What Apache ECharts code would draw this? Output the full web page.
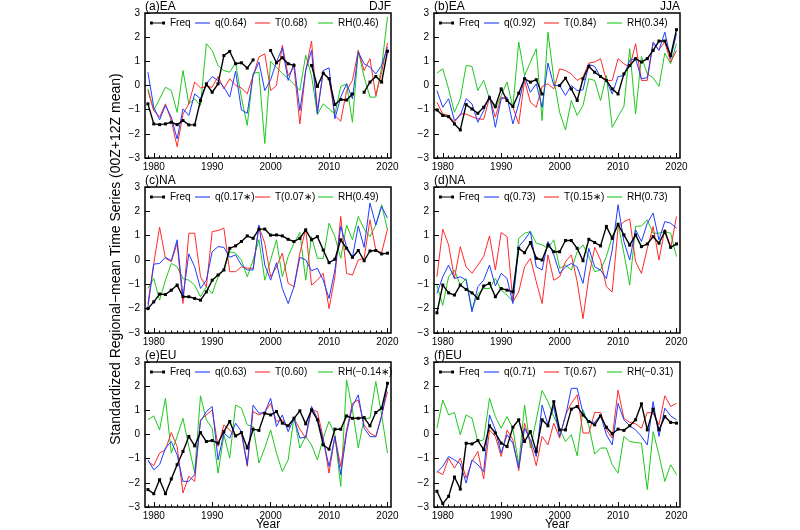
<!DOCTYPE html>
<html><head><meta charset="utf-8">
<script src="https://cdn.jsdelivr.net/npm/echarts@6/dist/echarts.min.js"></script>
<style>html,body{margin:0;padding:0;background:#fff}#c{width:800px;height:530px}</style>
</head><body><div id="c"></div><script>
// ---------------- data ----------------
const years = [1979,1980,1981,1982,1983,1984,1985,1986,1987,1988,1989,1990,1991,1992,1993,1994,1995,1996,1997,1998,1999,2000,2001,2002,2003,2004,2005,2006,2007,2008,2009,2010,2011,2012,2013,2014,2015,2016,2017,2018,2019,2020];
const yearTicks = [1980,1990,2000,2010,2020];

// (a) EA DJF
const legend_a = ['Freq','q(0.64)','T(0.68)','RH(0.46)'];
const freq_a = [-0.76,-1.59,-1.62,-1.59,-1.52,-1.62,-1.45,-1.63,-1.63,-0.62, 0.07,-0.28,0.07,1.24,1.41,0.9,0.94,0.72,1.06,null, null,1.45,0.94,1.15,0.9,0.83,null,null,0.83,-0.04, 0.51,0.28,-0.79,-0.58,-0.6,-0.35,null,-0.28,0.14,0.37, 0.14,1.42];
const q_a = [0.55,-0.9,-1.42,-0.83,-1.31,-2.21,-0.97,-1.24,-0.35,-0.55, 0.07,0.37,0.21,-0.07,-0.48,0.59,-1.01,-1.15,0.41,0.97, -0.21,0.24,0.97,1.56,0.21,0.93,-1.04,0.62,1.45,-1.18, 0.62,0.73,-1.38,-0.48,0.07,-0.55,1.38,0.9,0.76,0.48, 0.83,1.59];
const t_a = [-0.2,-1.04,-1.31,-0.76,-1.45,-2.53,-1.18,-0.76,0.14,-0.1, -0.04,-0.07,0.37,-0.14,0.28,0,-0.1,-0.35,0.41,1.18, 1.31,-0.21,0,1.66,0.41,0.76,-1.59,0.62,1.84,-1.04, 0.55,0.28,-1.24,-1.48,-0.21,0.21,1.45,0.62,1.11,-0.41, 0.55,1.76];
const rh_a = [-0.14,-1.04,-0.55,-0.07,-0.21,-1.11,0.62,-0.76,-0.55,-0.83, 1.73,1.45,0.83,0.62,0.55,0.95,-0.5,-1.65,0.5,0.55, -2.4,1.0,0.75,0.5,0.3,0.05,-0.2,1.25,0.4,-1.2, -0.76,-0.97,-1.18,-0.04,0.07,-1.52,1.45,0.35,-0.48,-0.48, 0.76,2.84];

// (b) EA JJA
const legend_b = ['Freq','q(0.92)','T(0.84)','RH(0.34)'];
const freq_b = [-1.01,-1.24,-1.29,-1.59,-1.84,-0.79,-0.97,-1.15,-0.9,-0.51, -0.87,-0.14,-0.62,-0.87,-0.32,0.28,0.14,0.24,-0.35,null, null,0,0.3,-0.14,-0.62,0.28,0.79,0.55,0.37,0.21, -0.14,-0.35,0.48,0.83,1.11,0.97,1.11,1.45,1.84,1.84, 1.24,2.31];
const q_b = [-0.21,-0.9,-0.55,-1.45,-1.24,-0.55,-0.76,-1.52,-1.04,-0.41, -1.73,-0.55,-0.48,-1.59,-0.76,0.37,-0.28,0.07,-0.9,0.93, 0,0,-0.41,0,-0.21,-0.18,0.87,0.79,0.35,0.21, -0.35,0.37,0.41,1.04,1.11,0.28,0.32,1.8,1.45,2.21, 1.11,2.14];
const t_b = [-0.69,-1.18,-1.24,-1.52,-1.18,-1.18,-1.29,-1.38,-1.4,-0.5, -1.31,-0.48,-0.59,-0.9,-1.59,0.21,-0.69,-0.9,-0.04,0.07, -0.14,0.69,0.62,0.48,0.21,0.35,0.93,0.97,1.11,0.21, 0.21,1.11,0.9,0.76,1.73,0.21,0.21,1.73,1.48,1.8, 0.97,1.45];
const rh_b = [0.51,0.69,-0.14,-1.11,-0.55,0.83,0.79,-0.21,0.21,-0.55, -0.97,-0.41,0.14,-0.9,1.8,0.41,0.97,1.52,-1.45,2.21, 0.28,-1.11,-1.84,-0.62,-1.24,-0.83,0.28,0.21,-0.62,0.41, -1.73,-1.29,-0.87,1.52,-1.18,1.2,0.48,0.32,-0.04,1.34, 0.9,1.73];

// (c) NA DJF
const legend_c = ['Freq','q(0.17\u2217)','T(0.07\u2217)','RH(0.49)'];
const freq_c = [-2.0,-1.72,-1.4,-1.42,-1.24,-1.03,-1.51,-1.51,-1.58,-1.65, -1.31,-0.83,-0.62,-0.41,0.48,0.58,0.76,0.99,0.89,1.27, 1.27,1.02,1.03,0.99,0.85,0.76,0.89,1.24,0.83,0.96, 0.41,-0.11,0.03,0.83,0.48,0.11,0.39,-0.03,0.37,0.39, 0.25,0.28];
const q_c = [-1.95,-0.17,-0.14,0.11,-0.03,0.83,-1.51,0.25,-0.28,-1.17, -0.83,0.34,0.55,0.52,0.11,0.21,-0.21,-0.41,-0.41,1.44, -0.21,-0.83,-0.11,-1.17,-1.79,-1.1,0.11,0,-0.44,-0.34, -0.83,-1.58,-0.41,1.38,0.55,0.11,1.4,0.52,2.34,1.44, 2.2,1.72];
const t_c = [-1.79,-0.14,1.35,0.07,-0.07,0.69,-1.79,1.1,1.1,-0.69, -1.1,1.17,1.21,1.31,-0.48,-0.48,-0.28,-0.34,-0.34,1.38, 0.69,-0.69,-0.28,0.28,-0.96,-1.1,0.28,1.27,-1.03,-0.83, -0.55,-2.0,-0.69,1.79,-0.55,-0.62,0,0.07,1.65,0.41, 0.3,1.27];
const rh_c = [-1.17,-0.76,-1.65,-0.83,-0.14,-0.28,-0.76,-0.83,-1.03,-1.51, -1.1,-1.38,-0.69,-0.41,0.34,0.28,0,-0.69,0,0.83, -0.83,0,0.83,-0.69,0.14,0.69,1.13,-0.83,0.96,0.07, 0.07,1.51,0.96,0.07,1.44,0.83,1.79,1.27,0.96,1.44, 2.27,1.24];

// (d) NA JJA
const legend_d = ['Freq','q(0.73)','T(0.15\u2217)','RH(0.73)'];
const freq_d = [-2.17,-1.03,-1.35,-1.44,-1.03,-1.21,-1.35,-1.58,-1.07,-0.96, -1.51,-1.17,-1.24,-1.31,0.48,0.3,0.72,0.07,0,0.62, 0.34,0.34,0.8,0.8,0.48,-0.03,0.85,0.72,0.58,1.38, 0.89,1.47,1.03,0.61,1.03,0.55,0.66,0.96,0.69,1.17, 0.52,0.66];
const q_d = [-1.38,-0.69,-0.21,-0.76,-0.69,-0.83,-2.13,-1.1,-0.83,-0.21, -1.07,-0.55,-0.76,-1.79,0.55,0.83,1.17,-0.28,-0.41,0.76, 0.21,-0.55,-0.28,-0.14,-0.28,-0.96,0.48,-0.28,-0.41,-0.76, 0.41,2.27,0.76,0,1.24,0.76,1.51,1.93,0.83,1.58, 1.51,1.31];
const t_d = [-0.69,1.27,0.62,-0.76,0.55,-0.28,-0.55,-0.21,0.14,0.99, -0.41,1.13,0.96,-1.72,-1.31,-0.28,0.07,-0.89,-1.79,0.21, -0.83,-0.69,-0.07,0.21,-0.89,-2.41,-0.69,0.52,0,-1.1, -1.31,1.31,1.58,1.68,-0.07,-0.55,0.48,1.38,0,1.27, 0.48,1.79];
const rh_d = [-1.03,-1.86,-0.69,-0.41,-1.03,-0.76,-2.06,-1.38,-1.17,-1.17, -0.76,-1.24,-1.44,-1.72,0.89,1.1,1.17,0.69,0.62,0.48, 0.83,-0.34,-0.21,-0.41,0.34,0.62,0.14,-0.48,-0.41,0.14, 0.96,1.51,0.28,-1.03,1.38,1.4,1.65,1.1,1.1,1.17, 1.1,0.14];

// (e) EU DJF
const legend_e = ['Freq','q(0.63)','T(0.60)','RH(\u22120.14\u2217)'];
const freq_e = [-2.28,-2.45,-1.87,-2.45,-1.84,-1.25,-0.7,-0.08,-0.47,0.08, -0.29,-0.25,-0.36,0.12,0.54,-0.06,0.08,-0.56,0.22,0.17, 0.88,0.81,0.95,0.47,0.36,0.67,0.98,0.44,1.02,0.61, -0.43,-0.61,0.22,0.22,0.77,0.67,0.67,0.7,0.36,0.91, 1.09,2.12];
const q_e = [-1.05,-1.46,-1.25,-0.56,-0.29,-0.84,-1.94,-1.94,-1.66,0.54, 0.95,1.16,-1.05,0.06,-0.15,0.47,0.12,-1.25,1.22,0.88, 0.91,1.5,0.33,0.81,0.12,0.67,-0.15,-0.11,1.16,0.67, -0.22,-1.32,-0.08,-1.66,0.06,1.16,1.64,0.26,-0.08,-0.1, 0.75,2.05];
const t_e = [-1.11,-1.29,-0.77,-0.63,0.08,-0.5,-2.42,-1.73,-1.94,0.61, 0.81,1.02,-0.5,0.4,0.19,-0.08,0.06,-1.32,0.95,0.81, 0.91,1.29,0.54,0.61,0.33,0.67,0.22,-0.15,1.02,0.95, -0.15,-1.6,-0.08,-1.32,0.19,1.29,1.43,0.4,0.06,-0.08, 0.81,1.77];
const rh_e = [0.61,0.77,0.19,1.5,-0.77,-0.08,0.67,-0.5,-1.57,1.6, 0.61,0.26,-1.6,-0.01,-0.98,1.22,1.09,0.4,0.33,-1.18, -0.56,0.19,-0.77,-1.53,-1.05,0.74,-0.56,-0.08,-0.43,-1.05, -0.15,0.54,-0.01,-2.15,2.26,1.02,-0.56,0.67,0.67,2.19, 0.81,-0.77];

// (f) EU JJA
const legend_f = ['Freq','q(0.71)','T(0.67)','RH(\u22120.31)'];
const freq_f = [-2.35,-2.86,-2.56,-1.76,-2.26,-0.36,-0.39,-0.25,-0.63,0.36, 0.06,-0.36,-0.5,0.3,0.61,-0.29,0.12,-0.7,0.61,0.36, 1.36,0.19,0.19,1.05,1.16,0.81,0.54,0.4,0.77,0.3, 0.03,0.22,0.17,0.36,0.61,1.27,0.19,1.05,0.19,0.74, 0.5,0.47];
const q_f = [-1.57,-1.32,-0.91,-1.05,-1.21,-2.01,-1.05,-1.25,-1.53,0.81, 0.19,-0.77,-0.01,-0.36,-1.39,0.26,-0.22,-0.91,1.22,0.4, 1.16,-0.08,0.74,1.91,1.91,0.88,0.54,0.5,0.81,-0.01, -0.43,1.29,0.61,0.36,0.19,-0.08,-0.43,1.36,-0.08,1.09, 0.77,0.61];
const t_f = [-1.53,-1.66,-0.98,-1.39,-0.98,-1.8,-1.11,-0.7,-1.84,0.19, -0.08,-0.91,0.19,-0.22,-1.5,0.47,-0.36,-1.29,-0.08,-0.43, 0.47,-0.15,0.81,1.29,1.64,0.06,0.06,0.91,0.91,0.19, -0.15,1.84,0.67,0.5,0.44,0.26,0.91,0.88,0.4,1.6, 1.16,1.29];
const rh_f = [0.26,1.43,0.81,0.91,-0.01,0.81,0.67,-0.29,-0.22,1.5, 0.74,0.26,0.74,0.26,-1.25,1.22,-0.56,0.61,1.82,1.36, 0.74,0.22,-0.29,-0.01,-0.88,1.02,0.36,-0.81,-0.56,-0.56, -1.25,-1.6,-0.08,-0.29,-0.33,-0.36,-2.28,0.12,-0.84,-1.94, -1.25,-1.66];

const panelTitles = ['(a)EA','(b)EA','(c)NA','(d)NA','(e)EU','(f)EU'];
const seasonTitles = ['DJF','JJA','','','',''];
const yTitle = 'Standardized Regional\u2212mean Time Series (00Z+12Z mean)';
const xTitle = 'Year';

// ---------------- build ----------------
const FONT = '"Liberation Sans", Arial, sans-serif';
const panels = [
  {legend:legend_a, series:[freq_a,q_a,t_a,rh_a]},
  {legend:legend_b, series:[freq_b,q_b,t_b,rh_b]},
  {legend:legend_c, series:[freq_c,q_c,t_c,rh_c]},
  {legend:legend_d, series:[freq_d,q_d,t_d,rh_d]},
  {legend:legend_e, series:[freq_e,q_e,t_e,rh_e]},
  {legend:legend_f, series:[freq_f,q_f,t_f,rh_f]}
];
const boxes = [
  {l:145,t:13,w:246,h:145},{l:434,t:13,w:246,h:145},
  {l:145,t:187,w:246,h:146},{l:434,t:187,w:246,h:146},
  {l:145,t:362,w:246,h:145},{l:434,t:362,w:246,h:145}
];
const colors = ['#000000','#1e3cff','#ff2a2a','#1ec81e'];
const legendOffsets = [5,50,110,173];
const drawOrder = [3,2,1,0];
const minus = v => (v < 0 ? '\u2212' + Math.abs(v) : String(v));

const option = {
  animation:false,
  backgroundColor:'#fff',
  grid:[], xAxis:[], yAxis:[], series:[], legend:[], graphic:[]
};

boxes.forEach((b,i) => {
  option.grid.push({left:b.l, top:b.t, width:b.w, height:b.h, show:true, borderColor:'#000', borderWidth:1.5, backgroundColor:'rgba(0,0,0,0)'});
  option.xAxis.push({gridIndex:i, type:'value', min:1978.5, max:2020.6, position:'bottom',
    axisLine:{show:false,onZero:false}, splitLine:{show:false},
    axisTick:{show:true, inside:true, length:5, customValues:yearTicks, lineStyle:{color:'#000',width:1}},
    axisLabel:{show:true, customValues:yearTicks, fontSize:10, color:'#000', margin:4, fontFamily:FONT, formatter: v => String(v)}});
  option.xAxis.push({gridIndex:i, type:'value', min:1978.5, max:2020.6, position:'bottom',
    axisLine:{show:false,onZero:false}, splitLine:{show:false},
    axisTick:{show:true, inside:true, length:2.5, customValues:years, lineStyle:{color:'#000',width:1}},
    axisLabel:{show:false}});
  option.yAxis.push({gridIndex:i, type:'value', min:-3, max:3, interval:1,
    axisLine:{show:false,onZero:false}, splitLine:{show:false},
    axisTick:{show:true, inside:true, length:5, lineStyle:{color:'#000',width:1}},
    axisLabel:{fontSize:10, color:'#000', margin:5, fontFamily:FONT, formatter:minus}});

  const p = panels[i];
  drawOrder.forEach(k => {
    const vals = p.series[k];
    const data = years.map((y,j) => [y, vals[j] == null ? '-' : vals[j]]);
    const s = {type:'line', name:p.legend[k], xAxisIndex:2*i, yAxisIndex:i, data:data,
      connectNulls:false, silent:true, z: 10 - k,
      lineStyle:{color:colors[k], width: k === 0 ? 1.4 : 1},
      itemStyle:{color:colors[k]}};
    if (k === 0) { s.symbol = 'rect'; s.symbolSize = 3; s.showSymbol = true; }
    else { s.symbol = 'none'; }
    option.series.push(s);
  });

  p.legend.forEach((nm,k) => {
    const item = {name:nm};
    if (k === 0) item.icon = 'path://M0,0h3v3h-3z M3,0.9h10v1.2h-10z M13,0h3v3h-3z';
    else item.icon = 'path://M0,0h15v1.1h-15z';
    option.legend.push({data:[item], left:b.l + legendOffsets[k], top:b.t + 5, padding:0,
      itemWidth:15, itemHeight: k === 0 ? 3 : 1.1, itemGap:0, selectedMode:false,
      textStyle:{fontSize:10, color:'#000', fontFamily:FONT}});
  });

  option.graphic.push({type:'text', left:b.l, top:b.t - 12, silent:true,
    style:{text:panelTitles[i], font:'12px ' + FONT, fill:'#000'}});
  if (seasonTitles[i]) {
    option.graphic.push({type:'text', right:800 - (b.l + b.w), top:b.t - 12, silent:true,
      style:{text:seasonTitles[i], font:'12px ' + FONT, fill:'#000'}});
  }
});

option.graphic.push({type:'text', x:116, y:259, rotation:Math.PI/2, silent:true,
  style:{text:yTitle, font:'14px ' + FONT, fill:'#000', textAlign:'center', textVerticalAlign:'middle', align:'center', verticalAlign:'middle'}});
[boxes[4], boxes[5]].forEach(b => {
  option.graphic.push({type:'text', x:b.l + b.w/2, y:519, silent:true,
    style:{text:xTitle, font:'12px ' + FONT, fill:'#000', textAlign:'center', textVerticalAlign:'top', align:'center', verticalAlign:'top'}});
});

const chart = echarts.init(document.getElementById('c'));
chart.setOption(option);
</script></body></html>
